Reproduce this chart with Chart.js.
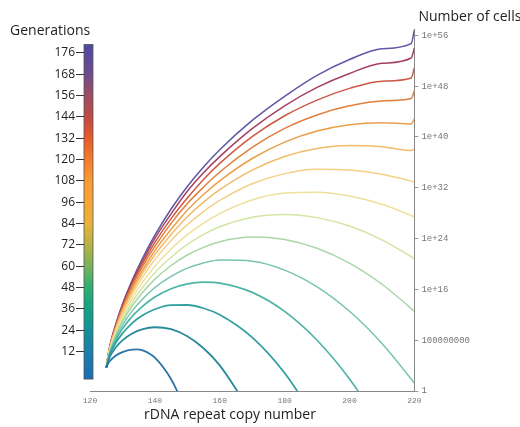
<!DOCTYPE html>
<html>
<head>
<meta charset="utf-8">
<script src="https://cdn.jsdelivr.net/npm/chart.js@4/dist/chart.umd.min.js"></script>
<style>
html,body{margin:0;padding:0;background:#fff;}
#wrap{width:520px;height:427px;position:relative;}
</style>
</head>
<body>
<div id="wrap"><canvas id="c" width="520" height="427"></canvas></div>
<script>
// rDNA repeat copy number (x positions of the sampled points)
const copyNumbers = [125,126,128,130,133,136,140,145,150,155,160,170,180,190,200,210,219,220];
const generations = [12,24,36,48,60,72,84,96,108,120,132,144,156,168,180];

// log10(number of cells), one array per generation (null = no point)
const g12  = [3.66,4.65,5.59,6.13,6.51,6.44,5.24,1.84,-3.6,null,null,null,null,null,null,null,null,null];
const g24  = [3.66,5.25,6.89,7.97,9.05,9.70,10.04,9.73,8.62,6.73,4.04,-3.7,null,null,null,null,null,null];
const g36  = [3.66,5.55,7.64,9.06,10.70,11.85,12.87,13.52,13.54,13.03,12.01,8.44,2.83,-4.82,null,null,null,null];
const g48  = [3.66,5.76,8.08,9.80,11.75,13.26,14.80,16.11,16.88,17.15,16.99,15.53,12.53,7.99,1.9,-5.72,null,null];
const g60  = [3.66,5.91,8.48,10.37,12.61,14.38,16.30,18.06,19.34,20.17,20.61,20.44,19.04,16.41,12.56,7.49,1.88,1.2];
const g72  = [3.66,6.05,8.81,10.91,13.38,15.38,17.62,19.76,21.41,22.62,23.51,24.24,23.85,22.48,20.14,16.81,12.98,12.51];
const g84  = [3.66,6.17,9.09,11.29,13.97,16.19,18.63,21.06,23.07,24.66,25.87,27.37,27.8,27.30,25.97,23.80,21.14,20.81];
const g96  = [3.66,6.29,9.36,11.69,14.57,16.98,19.64,22.35,24.62,26.45,27.94,30.08,31.16,31.31,30.71,29.41,27.63,27.40];
const g108 = [3.66,6.44,9.61,12.14,15.24,17.77,20.68,23.69,26.19,28.25,30.00,32.63,34.23,34.93,34.81,34.14,33.05,32.90];
const g120 = [3.66,6.53,9.85,12.48,15.66,18.42,21.46,24.65,27.45,29.75,31.71,34.79,36.93,38.18,38.64,38.46,37.85,38.1];
const g132 = [3.66,6.56,9.99,12.69,16.04,18.86,22.10,25.46,28.47,30.94,33.10,36.61,39.19,40.93,41.93,42.24,42.05,42.9];
const g144 = [3.66,6.61,10.20,12.98,16.48,19.43,22.76,26.39,29.51,32.12,34.49,38.37,41.36,43.47,44.90,45.68,46.05,47.3];
const g156 = [3.66,6.68,10.34,13.23,16.84,19.86,23.39,27.14,30.39,33.32,35.84,40.05,43.34,45.81,47.65,48.79,49.29,50.9];
const g168 = [3.66,6.73,10.52,13.53,17.14,20.29,24.05,27.90,31.45,34.36,36.90,41.30,44.90,47.80,50.00,51.60,52.43,54.0];
const g180 = [3.66,6.78,10.64,13.67,17.43,20.71,24.53,28.66,32.21,35.28,38.00,42.60,46.40,49.70,52.20,53.90,54.70,56.86];
const seriesList = [g12,g24,g36,g48,g60,g72,g84,g96,g108,g120,g132,g144,g156,g168,g180];

// tick labels
const xTicks = [120,140,160,180,200,220];
const cellTicks = [1,1e8,1e16,1e24,1e32,1e40,1e48,1e56];
const cellTickLabels = ['1','100000000','1e+16','1e+24','1e+32','1e+40','1e+48','1e+56'];
const genTicks = [12,24,36,48,60,72,84,96,108,120,132,144,156,168,180];
const genTickLabels = ['12','24','36','48','60','72','84','96','108','120','132','144','156','168','176'];

// styles
const curveColors = ['#2f74a6','#2a8a9a','#31a0a0','#4fb4a6','#78c4ac','#aad6a8','#d2e5a3','#eee19c','#f4d087','#f2bb68','#eb9f4b','#e07f3b','#cd5843','#a5405f','#5d58a6'];
const curveWidths = [1.8,1.8,1.8,1.7,1.5,1.5,1.5,1.5,1.5,1.5,1.5,1.5,1.5,1.5,1.5];
const barStops = [-3.4,12,24,36,48,60,72,84,96,108,120,132,144,156,168,184.7];
const barColors = ['#1b6cb3','#1b7fab','#13909a','#15a285','#2fae72','#77b35b','#b5b345','#e9b23a','#f9a535','#fa9a34','#f47c2c','#e85a27','#c04a44','#9c4e62','#6f4b8d','#4c4aa2'];

const datasets = seriesList.map((arr, i) => ({
  label: 'Generation ' + generations[i],
  data: copyNumbers.map((x, j) => ({x: x, y: arr[j] === null ? null : Math.pow(10, arr[j])})).filter(p => p.y !== null),
  borderColor: curveColors[i],
  backgroundColor: curveColors[i],
  borderWidth: curveWidths[i],
  pointRadius: 0,
  fill: false,
  cubicInterpolationMode: i === 0 ? 'default' : 'monotone',
  tension: 0.4,
  xAxisID: 'x',
  yAxisID: 'y'
}));

const colorbarPlugin = {
  id: 'colorbar',
  afterDraw(chart) {
    const s = chart.scales.gen;
    const ctx = chart.ctx;
    const lo = barStops[0], hi = barStops[barStops.length - 1];
    const top = s.getPixelForValue(hi), bot = s.getPixelForValue(lo);
    const x0 = s.right - 6, w = 9;
    const grad = ctx.createLinearGradient(0, bot, 0, top);
    barStops.forEach((v, i) => grad.addColorStop((v - lo) / (hi - lo), barColors[i]));
    ctx.save();
    ctx.fillStyle = grad;
    ctx.fillRect(x0, top, w, bot - top);
    ctx.strokeStyle = '#555';
    ctx.lineWidth = 0.8;
    ctx.strokeRect(x0, top, w, bot - top);
    ctx.restore();
  }
};

const titlesPlugin = {
  id: 'titles',
  afterDraw(chart) {
    const ctx = chart.ctx, a = chart.chartArea;
    ctx.save();
    ctx.fillStyle = '#222';
    ctx.font = '14px "Open Sans", sans-serif';
    ctx.textBaseline = 'alphabetic';
    ctx.textAlign = 'left';
    ctx.fillText('Generations', a.left - 80, a.top + 6);
    ctx.fillText('Number of cells', a.right + 4, a.top - 8);
    ctx.fillText('rDNA repeat copy number', a.left + 54, a.bottom + 28);
    ctx.restore();
  }
};

new Chart(document.getElementById('c'), {
  type: 'line',
  data: { datasets },
  options: {
    responsive: false,
    animation: false,
    events: [],
    layout: { padding: { left: 40, right: 0, top: 29, bottom: 0 } },
    plugins: { legend: { display: false }, tooltip: { enabled: false }, title: { display: false } },
    scales: {
      x: {
        type: 'linear', position: 'bottom', min: 120, max: 220,
        afterBuildTicks: s => { s.ticks = xTicks.map(v => ({value: v})); },
        afterFit: s => { s.height = 36; },
        grid: { display: true, drawOnChartArea: false, drawTicks: false },
        border: { color: '#888', width: 1 },
        ticks: { padding: 5, color: '#777', maxRotation: 0, autoSkip: false,
                 font: { family: '"Liberation Mono", monospace', size: 8 } }
      },
      y: {
        type: 'logarithmic', position: 'right', min: 1, max: 1e57,
        afterBuildTicks: s => { s.ticks = cellTicks.map(v => ({value: v})); },
        afterFit: s => { s.width = 105.6; },
        grid: { drawOnChartArea: false, tickLength: 4, color: '#999' },
        border: { color: '#888', width: 1 },
        ticks: { padding: 3, color: '#777', autoSkip: false,
                 font: { family: '"Liberation Mono", monospace', size: 9 },
                 callback: (v, i) => cellTickLabels[i] }
      },
      gen: {
        type: 'linear', position: 'left', min: -10.1, max: 193.4,
        afterBuildTicks: s => { s.ticks = genTicks.map(v => ({value: v})); },
        afterFit: s => { s.width = 50; },
        grid: { drawOnChartArea: false, tickLength: 14, color: '#333', lineWidth: 1 },
        border: { display: false },
        ticks: { padding: 1, color: '#222', autoSkip: false,
                 font: { family: '"Liberation Sans Narrow", "Open Sans", sans-serif', size: 12 },
                 callback: (v, i) => genTickLabels[i] }
      }
    }
  },
  plugins: [colorbarPlugin, titlesPlugin]
});
</script>
</body>
</html>
